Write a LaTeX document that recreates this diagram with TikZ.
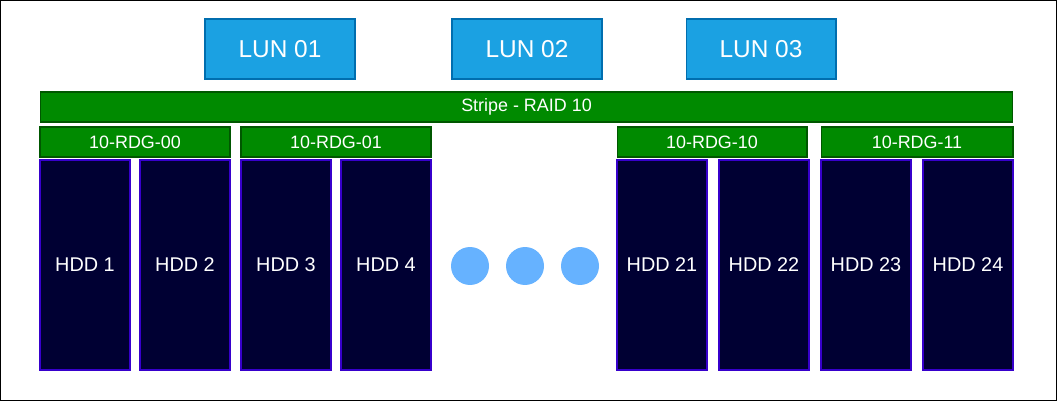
\documentclass[tikz,border=0pt]{standalone}
\usepackage{fontspec}
\setmainfont{Liberation Sans}
\definecolor{lunfill}{HTML}{1BA1E2}
\definecolor{lunline}{HTML}{006EAF}
\definecolor{grpfill}{HTML}{008A00}
\definecolor{grpline}{HTML}{005700}
\definecolor{hddfill}{HTML}{000033}
\definecolor{hddline}{HTML}{3700CC}
\definecolor{dotfill}{HTML}{66B2FF}
\tikzset{
  lun/.style={draw=lunline,fill=lunfill,text=white,line width=0.6pt,inner sep=0pt,
    minimum width=3cm,minimum height=1.2cm,font=\fontsize{13.9}{16}\selectfont},
  grp/.style={draw=grpline,fill=grpfill,text=white,line width=0.6pt,inner sep=0pt,
    minimum width=3.8cm,minimum height=0.6cm,font=\fontsize{10.2}{12}\selectfont},
  hdd/.style={draw=hddline,fill=hddfill,text=white,line width=0.6pt,inner sep=0pt,
    minimum width=1.8cm,minimum height=4.2cm,font=\fontsize{11.3}{13}\selectfont},
  gap/.style={circle,fill=dotfill,inner sep=0pt,minimum size=0.76cm}
}
\begin{document}
\begin{tikzpicture}[x=0.02cm,y=-0.02cm]
  \useasboundingbox (0,0) rectangle (1057,401);
  \draw[black,line width=0.6pt] (0.5,0.5) rectangle (1056.5,400.5);
  % LUNs
  \node[lun] (lun01) at (280,49) {LUN 01};
  \node[lun] (lun02) at (527,49) {LUN 02};
  \node[lun] (lun03) at (761,49) {LUN 03};
  % stripe and raid groups
  \node[grp,minimum width=19.46cm] (stripe) at (526.5,107) {Stripe - RAID 10};
  \node[grp] (rdg00) at (135,142) {10-RDG-00};
  \node[grp] (rdg01) at (336,142) {10-RDG-01};
  \node[grp] (rdg10) at (712,142) {10-RDG-10};
  \node[grp,minimum width=3.84cm] (rdg11) at (917,142) {10-RDG-11};
  % disks
  \foreach \n/\x in {1/85,2/185,3/286,4/386,21/662,22/764,23/866,24/968} {
    \node[hdd] (hdd\n) at (\x,265) {HDD \n};
  }
  \foreach \i/\x in {1/470,2/525,3/580} {
    \node[gap] (dot\i) at (\x,266) {};
  }
\end{tikzpicture}
\end{document}
